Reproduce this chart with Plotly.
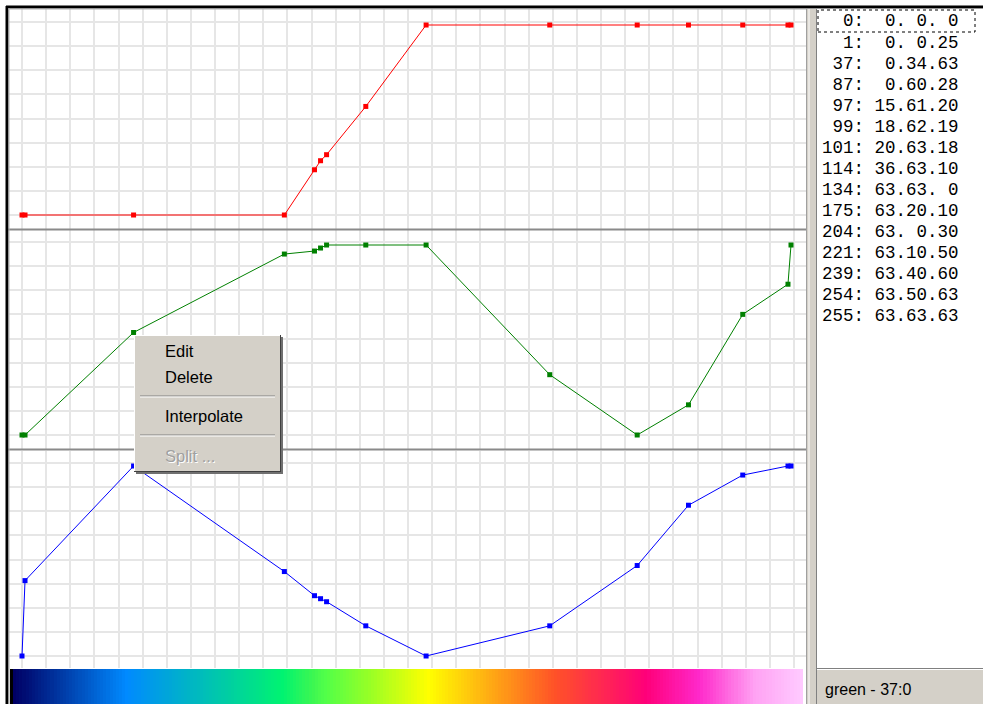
import plotly.graph_objects as go

# ---------------- data ----------------
idx = [0, 1, 37, 87, 97, 99, 101, 114, 134, 175, 204, 221, 239, 254, 255]
red = [0, 0, 0, 0, 15, 18, 20, 36, 63, 63, 63, 63, 63, 63, 63]
green = [0, 0, 34, 60, 61, 62, 63, 63, 63, 20, 0, 10, 40, 50, 63]
blue = [0, 25, 63, 28, 20, 19, 18, 10, 0, 10, 30, 50, 60, 63, 63]
palette_index = list(range(256))
menu_items = ["Edit", "Delete", "Interpolate", "Split ..."]
menu_enabled = [True, True, True, False]
status_text = "green - 37:0"

W, H = 983, 704


def X(px):
    return px / W


def Y(py):
    return 1 - py / H


# pixel geometry of the plot area
X0, XS = 22.0, 769.0 / 255.0          # px of index 0, px per index
PL, PR = 9.0, 806.0                    # plot area left/right px
xr = [(PL - X0) / XS, (PR - X0) / XS]

panels = [  # (top px, bottom px, px of value 0)
    (9, 229, 215),
    (230, 449, 435),
    (451, 668, 656),
]

fig = go.Figure()

series = [(red, "#ff0000"), (green, "#008000"), (blue, "#0000ff")]
for k, ((vals, col), (top, bot, zero)) in enumerate(zip(series, panels)):
    n = "" if k == 0 else str(k + 1)
    fig.add_trace(go.Scatter(
        x=idx, y=vals, mode="lines+markers",
        line=dict(color=col, width=1),
        marker=dict(symbol="square", size=5, color=col),
        xaxis="x" + n, yaxis="y" + n, hoverinfo="skip", showlegend=False))
    yr = [(zero - bot) / XS, (zero - top) / XS]
    ax = dict(domain=[X(PL), X(PR)], range=xr, showticklabels=False, ticks="",
              showgrid=True, gridcolor="#e6e6e6", gridwidth=2, dtick=8, tick0=0,
              zeroline=False, showline=False, fixedrange=True, anchor="y" + n)
    ay = dict(domain=[Y(bot), Y(top)], range=yr, showticklabels=False, ticks="",
              showgrid=True, gridcolor="#e6e6e6", gridwidth=2, dtick=8, tick0=0,
              zeroline=False, showline=False, fixedrange=True, anchor="x" + n)
    fig.layout["xaxis" + n] = ax
    fig.layout["yaxis" + n] = ay

# colour strip built from the palette control points (256 equal cells)
cscale = [[i / 255.0, "rgb(%d,%d,%d)" % (round(r * 255 / 63), round(g * 255 / 63), round(b * 255 / 63))]
          for i, r, g, b in zip(idx, red, green, blue)]
edges = palette_index + [256]
fig.add_trace(go.Heatmap(z=[palette_index], x=edges, y=[0, 1], colorscale=cscale,
                         zmin=0, zmax=255, showscale=False, zsmooth=False,
                         hoverinfo="skip", xaxis="x4", yaxis="y4"))
fig.layout["xaxis4"] = dict(domain=[X(10), X(PR)], range=[0, 256], visible=False, anchor="y4", fixedrange=True)
fig.layout["yaxis4"] = dict(domain=[0, Y(669)], range=[0, 1], visible=False, anchor="x4", fixedrange=True)

shapes = []


def rect(x0, y0, x1, y1, fill=None, line=None, width=1, dash=None):
    d = dict(type="rect", xref="paper", yref="paper", x0=X(x0), x1=X(x1), y0=Y(y1), y1=Y(y0),
             layer="above", line=dict(width=0))
    if fill:
        d["fillcolor"] = fill
    if line:
        d["line"] = dict(color=line, width=width)
        if dash:
            d["line"]["dash"] = dash
    shapes.append(d)


def hline(x0, x1, y, color, width=1):
    shapes.append(dict(type="line", xref="paper", yref="paper", x0=X(x0), x1=X(x1), y0=Y(y), y1=Y(y),
                       line=dict(color=color, width=width), layer="above"))


def vline(x, y0, y1, color, width=1):
    shapes.append(dict(type="line", xref="paper", yref="paper", x0=X(x), x1=X(x), y0=Y(y0), y1=Y(y1),
                       line=dict(color=color, width=width), layer="above"))


# panel separators
hline(8, 806, 229.5, "#8a8a8a", 2)
hline(8, 806, 449.5, "#8a8a8a", 2)
# window frame
vline(7, 6, 704, "#000000", 3)
hline(6, 983, 7, "#000000", 3)
vline(9, 8, 704, "#b0b0b0", 1)
hline(8, 983, 9, "#b0b0b0", 1)
# splitter
rect(806, 9, 817, 704, fill="#d4d0c8")
vline(806.5, 9, 704, "#a0a0a0", 1)
vline(809, 9, 704, "#ffffff", 1)
vline(816.5, 9, 704, "#808080", 1)
# list box & status bar
rect(817, 9, 983, 668, fill="#ffffff")
rect(817, 668, 983, 704, fill="#d4d0c8")
hline(817, 983, 668.5, "#808080", 1)
hline(817, 983, 669.5, "#ffffff", 1)
rect(818, 10, 975, 32, line="#000000", width=1, dash="dot")
# context menu
rect(136, 337, 283, 474, fill="#707070")
rect(134, 335, 281, 472, fill="#d4d0c8")
hline(134, 281, 335.5, "#ffffff", 1)
vline(134.5, 335, 472, "#ffffff", 1)
vline(280.5, 335, 472, "#404040", 1)
hline(134, 281, 471.5, "#404040", 1)
hline(140, 275, 396, "#808080", 1)
hline(140, 275, 397, "#ffffff", 1)
hline(140, 275, 435, "#808080", 1)
hline(140, 275, 436, "#ffffff", 1)

annotations = []
menu_y = [351, 377, 416, 456]
for txt, en, yy in zip(menu_items, menu_enabled, menu_y):
    if not en:
        annotations.append(dict(x=X(164), y=Y(yy + 1), xref="paper", yref="paper", text=txt,
                                showarrow=False, xanchor="left", yanchor="middle",
                                font=dict(family="Liberation Sans", size=16.5, color="#ffffff")))
    annotations.append(dict(x=X(163), y=Y(yy), xref="paper", yref="paper", text=txt,
                            showarrow=False, xanchor="left", yanchor="middle",
                            font=dict(family="Liberation Sans", size=16.5,
                                      color="#000000" if en else "#a0a0a0")))

for i, (ix, r, g, b) in enumerate(zip(idx, red, green, blue)):
    s = "%3d: %2d.%2d.%2d" % (ix, r, g, b)
    s = s.replace(" ", "\u00a0")
    annotations.append(dict(x=X(820), y=Y(21.5 + 21.03 * i), xref="paper", yref="paper", text=s,
                            showarrow=False, xanchor="left", yanchor="middle",
                            font=dict(family="Liberation Mono", size=17.5, color="#000000")))

annotations.append(dict(x=X(823), y=Y(689), xref="paper", yref="paper", text=status_text,
                        showarrow=False, xanchor="left", yanchor="middle",
                        font=dict(family="Liberation Sans", size=16, color="#000000")))

fig.update_layout(width=W, height=H, margin=dict(l=0, r=0, t=0, b=0),
                  paper_bgcolor="#ffffff", plot_bgcolor="#ffffff",
                  shapes=shapes, annotations=annotations, showlegend=False)

fig.write_html("out.html", config={"displayModeBar": False},
               post_script="document.body.style.margin='0';document.body.style.overflow='hidden';")
